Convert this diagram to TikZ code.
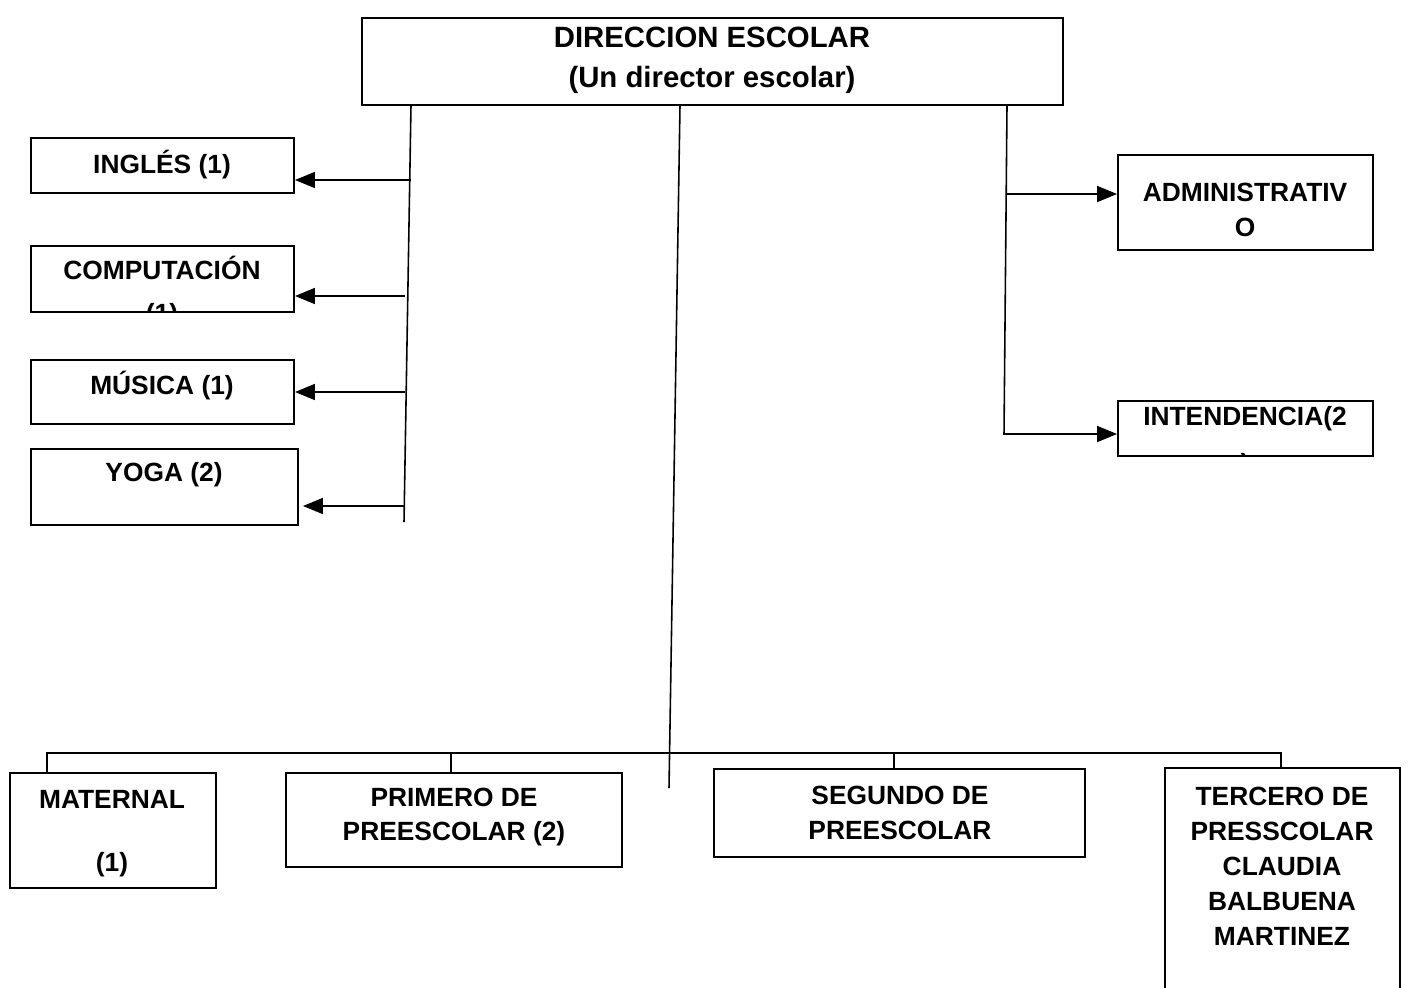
\documentclass[tikz,border=0pt]{standalone}
\usepackage{fontspec}
\setmainfont{Liberation Sans}
\usetikzlibrary{arrows.meta}

\tikzset{
    caja/.style={draw, line width=1.1pt, inner sep=0pt},
    txt/.style={font=\fontsize{15}{19.9}\selectfont\bfseries, align=center, inner sep=0pt},
    titulo/.style={font=\fontsize{16.7}{22.7}\selectfont\bfseries, align=center, inner sep=0pt},
    linea/.style={line width=0.9pt},
    flecha/.style={line width=0.9pt, -{Triangle[length=0.4cm, width=0.32cm]}}
}

\begin{document}
\begin{tikzpicture}[x=0.02cm, y=-0.02cm]
    \useasboundingbox (0,0) rectangle (1408,987);

    % cajas
    \node [caja, minimum width=14.02cm, minimum height=1.74cm] (dir) at (712.5,61.5) {};
    \node [caja, minimum width=5.26cm, minimum height=1.10cm] (ingles) at (162.5,165.5) {};
    \node [caja, minimum width=5.26cm, minimum height=1.32cm] (comp) at (162.5,279) {};
    \node [caja, minimum width=5.26cm, minimum height=1.28cm] (musica) at (162.5,392) {};
    \node [caja, minimum width=5.34cm, minimum height=1.52cm] (yoga) at (164.5,487) {};
    \node [caja, minimum width=5.10cm, minimum height=1.90cm] (admin) at (1245.5,202.5) {};
    \node [caja, minimum width=5.10cm, minimum height=1.10cm] (intend) at (1245.5,428.5) {};
    \node [caja, minimum width=4.12cm, minimum height=2.30cm] (maternal) at (113,830.5) {};
    \node [caja, minimum width=6.72cm, minimum height=1.88cm] (primero) at (454,820) {};
    \node [caja, minimum width=7.42cm, minimum height=1.76cm] (segundo) at (899.5,813) {};
    \node [caja, minimum width=4.70cm, minimum height=4.64cm] (tercero) at (1282.5,884) {};

    % textos
    \node [titulo] (tdir) at (712,60) {DIRECCION ESCOLAR\\(Un director escolar)};
    \node [txt] (tingles) at (162,165) {INGLÉS (1)};
    \begin{scope}
        \clip (comp.south west) rectangle (comp.north east);
        \node [txt] (tcomp) at (162,292.5) {COMPUTACIÓN\\[0.16cm](1)};
    \end{scope}
    \node [txt] (tmusica) at (162,386) {MÚSICA (1)};
    \node [txt] (tyoga) at (164,475) {YOGA (2)};
    \node [txt] (tadmin) at (1245,210) {ADMINISTRATIV\\O};
    \begin{scope}
        \clip (intend.south west) rectangle (intend.north east);
        \node [txt] (tintend) at (1245,442.5) {INTENDENCIA(2\\[0.24cm])};
    \end{scope}
    \node [txt] (tmaternal) at (112,833.5) {MATERNAL\\[-0.14cm]\mbox{}\\(1)};
    \node [txt] (tprimero) at (454,817) {PRIMERO DE\\PREESCOLAR (2)};
    \node [txt] (tsegundo) at (900,813) {SEGUNDO DE\\PREESCOLAR};
    \node [txt] (ttercero) at (1282,866) {TERCERO DE\\PRESSCOLAR\\CLAUDIA\\BALBUENA\\MARTINEZ};

    % troncos
    \coordinate (ltop) at (411,105);
    \coordinate (lbot) at (404,522);
    \coordinate (mtop) at (680,105);
    \coordinate (mbot) at (669,788);
    \coordinate (rtop) at (1007,105);
    \coordinate (rbot) at (1004,434);
    \draw [linea] (ltop) to (lbot);
    \draw [linea] (mtop) to (mbot);
    \draw [linea] (rtop) to (rbot);

    % flechas izquierda
    \coordinate (l1) at (411,180);
    \coordinate (l2) at (405,296);
    \coordinate (l3) at (405,392);
    \coordinate (l4) at (404,506);
    \draw [flecha] (l1) to (ingles.east |- l1);
    \draw [flecha] (l2) to (comp.east |- l2);
    \draw [flecha] (l3) to (musica.east |- l3);
    \draw [flecha, shorten >=4*0.02cm] (l4) to (yoga.east |- l4);

    % flechas derecha
    \coordinate (r1) at (1007,194);
    \coordinate (r2) at (1003,434);
    \draw [flecha] (r1) to (admin.west |- r1);
    \draw [flecha] (r2) to (intend.west |- r2);

    % barra inferior
    \coordinate (bizq) at (47,753);
    \coordinate (bder) at (1281,753);
    \draw [linea] (maternal.north -| bizq) to (bizq) to (bder) to (tercero.north -| bder);
    \draw [linea] (451,753) to (primero.north -| 451,0);
    \draw [linea] (894,753) to (segundo.north -| 894,0);
\end{tikzpicture}
\end{document}
